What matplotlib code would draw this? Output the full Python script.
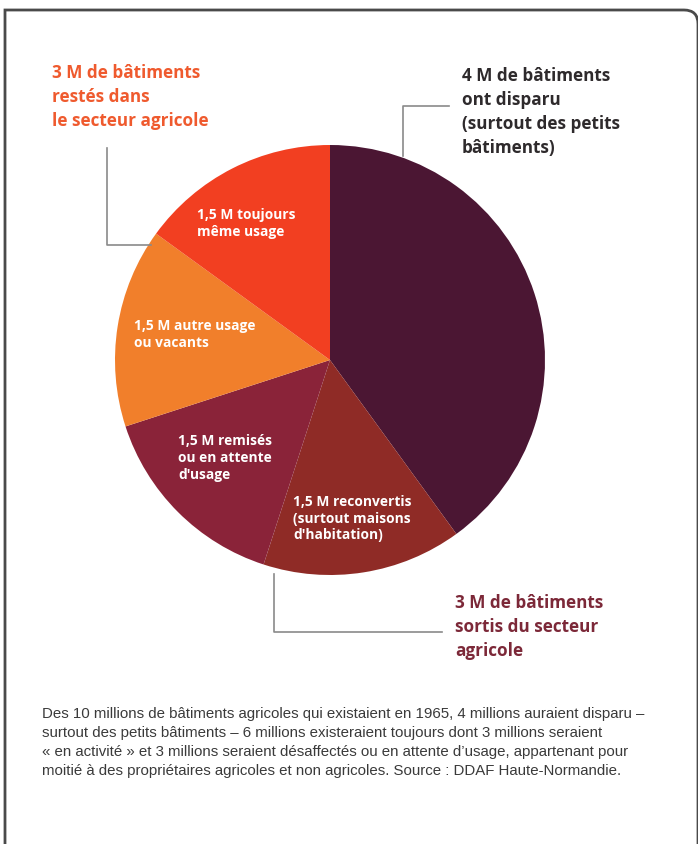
import matplotlib.pyplot as plt
from matplotlib.path import Path
from matplotlib.patches import PathPatch

# Data (millions of buildings), drawn clockwise from 12 o'clock
labels = ["4 M disparu", "1,5 M reconvertis\n(surtout maisons\nd'habitation)",
          "1,5 M remisés\nou en attente\nd'usage", "1,5 M autre usage\nou vacants",
          "1,5 M toujours\nmême usage"]
values = [4, 1.5, 1.5, 1.5, 1.5]
colors = ["#4b1633", "#8f2b26", "#8a2339", "#f17f2b", "#f23f21"]

caption = ("Des 10 millions de bâtiments agricoles qui existaient en 1965, 4 millions auraient disparu –\n"
           "surtout des petits bâtiments – 6 millions existeraient toujours dont 3 millions seraient\n"
           "« en activité » et 3 millions seraient désaffectés ou en attente d’usage, appartenant pour\n"
           "moitié à des propriétaires agricoles et non agricoles. Source : DDAF Haute-Normandie.")

W, H = 698, 844
fig = plt.figure(figsize=(W / 100, H / 100), dpi=100)
fig.patch.set_facecolor("white")

# pie
cx, cy, r = 330, 360, 215
ax = fig.add_axes([(cx - r) / W, 1 - (cy + r) / H, 2 * r / W, 2 * r / H])
ax.pie(values, colors=colors, startangle=90, counterclock=False, radius=1,
       wedgeprops=dict(linewidth=0))
ax.set_xlim(-1, 1)
ax.set_ylim(-1, 1)
ax.set_aspect("equal")
ax.axis("off")

# overlay axes in pixel coordinates (y down), above the pie
ov = fig.add_axes([0, 0, 1, 1])
ov.set_xlim(0, W)
ov.set_ylim(H, 0)
ov.axis("off")
ov.set_zorder(5)

# frame: square top-left, rounded top-right running off the page
verts = [(5, 860), (5, 10), (684, 10), (698, 10), (698, 24), (698, 860)]
codes = [Path.MOVETO, Path.LINETO, Path.LINETO, Path.CURVE3, Path.CURVE3, Path.LINETO]
ov.add_patch(PathPatch(Path(verts, codes), fill=False, edgecolor="#4a4a4a", linewidth=2))

font = "Open Sans"
inner = dict(color="white", fontsize=9.9, fontweight="bold", family=font,
             ha="left", va="top", linespacing=1.25)
ov.text(197, 208, labels[4], **inner)
ov.text(134, 319, labels[3], **inner)
ov.text(178, 434, labels[2], **inner)
ov.text(293, 495, labels[1], **inner)

outer = dict(fontsize=12.3, fontweight="bold", family=font, ha="left", va="top",
             linespacing=1.42)
ov.text(52, 64, "3 M de bâtiments\nrestés dans\nle secteur agricole", color="#ef5a2e", **outer)
ov.text(462, 67, "4 M de bâtiments\nont disparu\n(surtout des petits\nbâtiments)", color="#2e2a2c", **outer)
ov.text(455, 594, "3 M de bâtiments\nsortis du secteur\nagricole", color="#7c2838", **outer)

# leader lines
lc = dict(color="#8a8a8a", linewidth=1.2)
ov.plot([107, 107, 151], [148, 245, 245], **lc)
ov.plot([449, 403, 403], [106, 106, 156], **lc)
ov.plot([274, 274, 442], [574, 632, 632], **lc)

ov.text(42, 707, caption, color="#3a3a3a", fontsize=10.8,
        family=["Liberation Sans Narrow", "Liberation Sans"],
        ha="left", va="top", linespacing=1.45)

fig.savefig("out.png", dpi=100)
